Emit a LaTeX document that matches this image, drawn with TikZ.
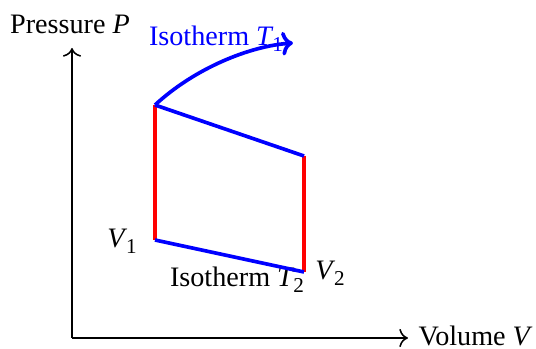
\documentclass[tikz,border=0pt]{standalone}
\usepackage{fontspec}
\setmainfont{Liberation Serif}
\usetikzlibrary{arrows.meta}
\newcommand{\vr}[2]{\textit{#1}\kern-0.04em\raisebox{-0.45ex}{\fontsize{7.5}{9}\selectfont #2}}
\begin{document}
\begin{tikzpicture}[x=0.355pt,y=-0.355pt,
  axis/.style={line width=0.55pt,-{To[scale=1.1]}},
  iso/.style={blue,line width=1.3pt},
  adia/.style={red,line width=1.3pt},
  lbl/.style={inner sep=0pt,font=\fontsize{10}{12}\selectfont}]
\useasboundingbox (0,0) rectangle (536,349);
\coordinate (O) at (72,338);
\coordinate (Ytip) at (72,48);
\coordinate (Xtip) at (408,338);
\coordinate (A) at (155,105);
\coordinate (B) at (304,156);
\coordinate (C) at (304,272);
\coordinate (D) at (155,240);
\coordinate (E) at (293,43);
\draw[axis] (O) -- (Ytip);
\draw[axis] (O) -- (Xtip);
\node[lbl] (py) at (70,24) {Pressure \textit{P}};
\node[lbl,anchor=west] (vx) at (418,336) {Volume \textit{V}};
\node[lbl,blue] (t1) at (216,39) {Isotherm \vr{T}{1}};
\node[lbl] (t2) at (237,280) {Isotherm \vr{T}{2}};
\node[lbl] (v1) at (122,241) {\vr{V}{1}};
\node[lbl] (v2) at (330,273) {\vr{V}{2}};
\draw[adia] (D) -- (A);
\draw[adia] (B) -- (C);
\draw[iso] (A) -- (B);
\draw[iso] (D) -- (C);
\draw[iso,-{To[scale=0.9]}] (A) .. controls (195,68) and (250,46) .. (E);
\end{tikzpicture}
\end{document}
